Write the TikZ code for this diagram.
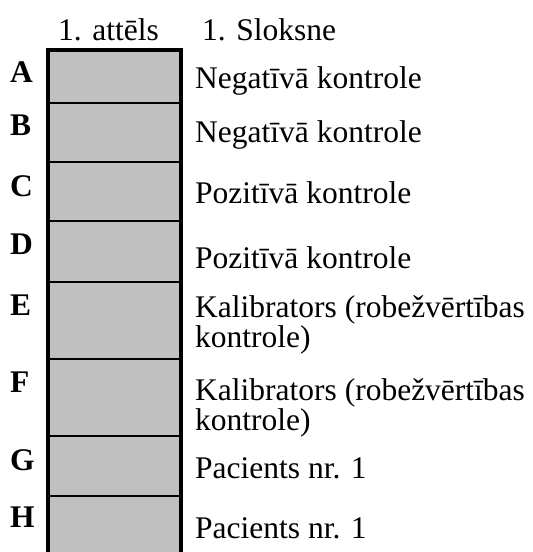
\documentclass[tikz,border=0pt]{standalone}
\usepackage{fontspec}
\setmainfont{Liberation Serif}
\definecolor{cellgray}{RGB}{192,192,192}
\begin{document}
\begin{tikzpicture}[x=1pt,y=-1pt,
  cell/.style={rectangle,fill=cellgray,inner sep=0pt,minimum width=133pt},
  row label/.style={anchor=base west,inner sep=0pt,font=\bfseries},
  entry/.style={anchor=base west,inner sep=0pt,align=left},
  outer/.style={line width=4pt},
  inner/.style={line width=1.6pt}]
  \useasboundingbox (0,0) rectangle (533,552);
  \fontsize{31.5}{32}\selectfont

  \node[entry] (head1) at (58,40) {1. attēls};
  \node[entry] (head2) at (202,40) {1. Sloksne};

  % the base of a two-line entry is its second line
  \foreach \row/\ytop/\ybot/\lbase/\ebase/\txt in {
      A/50/103/82/88/{Negatīvā kontrole},
      B/103/162/135/142/{Negatīvā kontrole},
      C/162/221/196/203/{Pozitīvā kontrole},
      D/221/282/254/268/{Pozitīvā kontrole},
      E/282/359/315/347/{Kalibrators (robežvērtības\\[-2pt]kontrole)},
      F/359/436/392/430/{Kalibrators (robežvērtības\\[-2pt]kontrole)},
      G/436/496/470/478/{Pacients nr. 1},
      H/496/552/527/538/{Pacients nr. 1}} {
    \pgfmathsetmacro{\cellmid}{(\ytop+\ybot)/2}
    \pgfmathsetmacro{\cellh}{\ybot-\ytop}
    \node[cell,minimum height=\cellh pt] (cell\row) at (114.5,\cellmid) {};
    \node[row label] (label\row) at (10,\lbase) {\row};
    \node[entry] (entry\row) at (195,\ebase) {\txt};
  }

  % lines between rows
  \foreach \a in {A,B,C,D,E,F,G}
    \draw[inner] (cell\a.south west) -- (cell\a.south east);

  % outer border, open at the bottom
  \draw[outer] (cellH.south west) -- (cellA.north west)
    -- (cellA.north east) -- (cellH.south east);
\end{tikzpicture}
\end{document}
